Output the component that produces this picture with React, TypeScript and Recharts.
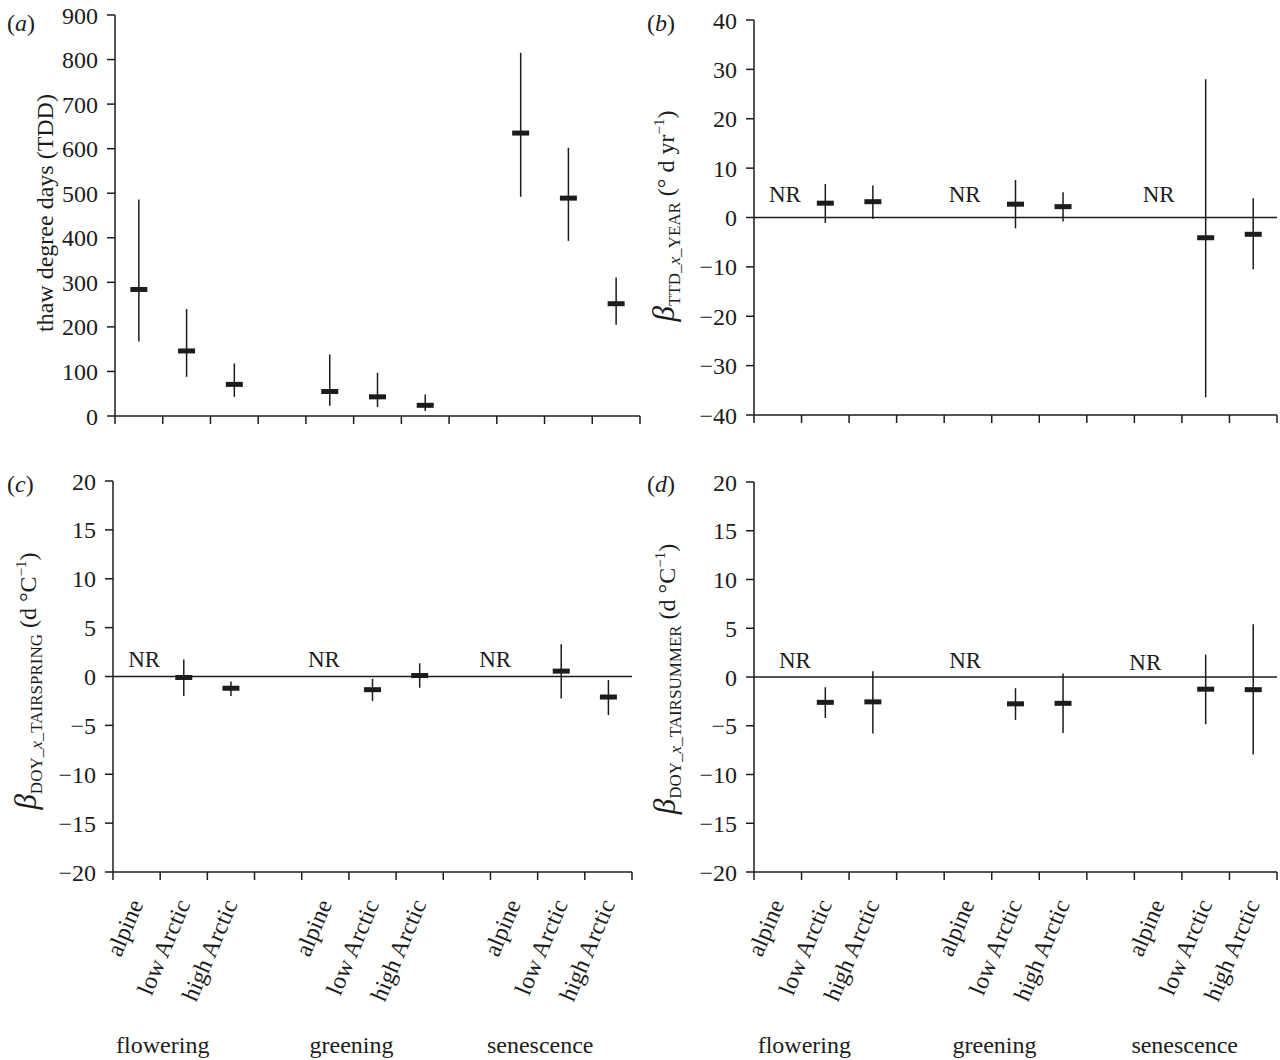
import React from 'react';
import { ComposedChart, Scatter, ErrorBar, XAxis, YAxis, ReferenceLine, Label } from 'recharts';

const FONT = "'Liberation Serif', 'Times New Roman', serif";
const INK = '#1c1c1c';

// categories
const regions = ['alpine', 'low Arctic', 'high Arctic'];
const phases = ['flowering', 'greening', 'senescence'];

// order: flowering (alpine, low, high), greening (...), senescence (...)
// (a) thaw degree days
const tddMean = [284, 146, 71, 55, 43, 24, 635, 489, 252];
const tddLow = [167, 88, 43, 23, 20, 11, 492, 393, 205];
const tddHigh = [486, 240, 118, 138, 97, 48, 815, 602, 311];

// (b) beta TTD x YEAR (null = NR)
const yearMean = [null, 2.9, 3.2, null, 2.7, 2.2, null, -4.1, -3.4];
const yearLow = [null, -1.1, -0.3, null, -2.2, -0.8, null, -36.4, -10.5];
const yearHigh = [null, 6.8, 6.5, null, 7.6, 5.1, null, 28, 3.9];

// (c) beta DOY x TAIRSPRING
const springMean = [null, -0.1, -1.2, null, -1.35, 0.1, null, 0.55, -2.1];
const springLow = [null, -2.0, -2.0, null, -2.5, -1.15, null, -2.25, -3.95];
const springHigh = [null, 1.75, -0.5, null, -0.25, 1.35, null, 3.3, -0.35];

// (d) beta DOY x TAIRSUMMER
const summerMean = [null, -2.6, -2.55, null, -2.75, -2.7, null, -1.25, -1.3];
const summerLow = [null, -4.2, -5.8, null, -4.4, -5.75, null, -4.85, -7.95];
const summerHigh = [null, -1.05, 0.6, null, -1.15, 0.35, null, 2.3, 5.4];

// "NR" annotation anchors (x in category-slot units, y in data units)
const nrXB = [0.65, 4.43, 8.51];
const nrYB = [4.7, 4.7, 4.7];
const nrXC = [0.66, 4.47, 8.1];
const nrYC = [1.75, 1.75, 1.75];
const nrXD = [0.86, 4.44, 8.23];
const nrYD = [1.7, 1.8, 1.5];

const tddTicks = [0, 100, 200, 300, 400, 500, 600, 700, 800, 900];
const yearTicks = [-40, -30, -20, -10, 0, 10, 20, 30, 40];
const tairTicks = [-20, -15, -10, -5, 0, 5, 10, 15, 20];

const NSLOTS = 11;
const slotOf = (k: number) => Math.floor(k / 3) * 4 + (k % 3);
const boundaryTicks = Array.from({ length: NSLOTS + 1 }, (_, i) => i);
const catTicks = [...boundaryTicks, ...Array.from({ length: 9 }, (_, k) => slotOf(k) + 0.5)].sort((a, b) => a - b);

function buildRows(mean: (number | null)[], low: (number | null)[], high: (number | null)[]) {
  const rows: any[] = [];
  mean.forEach((m, k) => {
    if (m == null) return;
    rows.push({ x: slotOf(k) + 0.5, y: m, err: [m - (low[k] as number), (high[k] as number) - m] });
  });
  return rows;
}
function buildNR(xs: number[], ys: number[]) {
  return xs.map((x, i) => ({ x, y: ys[i] }));
}

const fmt = (v: number) => (v < 0 ? '\u2212' + Math.abs(v) : String(v));

const Dash = (props: any) => {
  const { cx, cy } = props;
  if (cx == null || cy == null) return <g />;
  return <rect x={cx - 8.5} y={cy - 2.5} width={17} height={5} fill={INK} />;
};
const NRText = (props: any) => {
  const { cx, cy } = props;
  if (cx == null || cy == null) return <g />;
  return (
    <text x={cx} y={cy} dy="0.35em" textAnchor="middle" fontFamily={FONT} fontSize={23} fill={INK}>
      NR
    </text>
  );
};

const makeTick = (showCats: boolean) => (props: any) => {
  const { x, y, payload } = props;
  const v = payload.value as number;
  if (Number.isInteger(v)) {
    return <line x1={x} x2={x} y1={y} y2={y + 8} stroke={INK} strokeWidth={1.5} />;
  }
  if (!showCats) return <g />;
  const s = Math.floor(v);
  const r = s % 4;
  const g = Math.floor(s / 4);
  const ax = x + 7;
  const ay = y + 32;
  return (
    <g>
      <text
        x={ax}
        y={ay}
        transform={`rotate(-67 ${ax} ${ay})`}
        textAnchor="end"
        fontFamily={FONT}
        fontSize={24}
        fill={INK}
      >
        {regions[r]}
      </text>
      {r === 1 && (
        <text x={x - 21} y={y + 181} textAnchor="middle" fontFamily={FONT} fontSize={24} fill={INK}>
          {phases[g]}
        </text>
      )}
    </g>
  );
};

type PanelProps = {
  left: number;
  top: number;
  width: number;
  height: number;
  marginTop: number;
  marginRight: number;
  yWidth: number;
  xHeight: number;
  domain: [number, number];
  ticks: number[];
  rows: any[];
  nr?: any[];
  zeroLine: boolean;
  showCats: boolean;
  title: () => React.ReactElement;
};

function Panel(p: PanelProps) {
  return (
    <div style={{ position: 'absolute', left: p.left, top: p.top, width: p.width, height: p.height }}>
      <ComposedChart
        width={p.width}
        height={p.height}
        margin={{ top: p.marginTop, right: p.marginRight, left: 0, bottom: 0 }}
      >
        <XAxis
          type="number"
          dataKey="x"
          domain={[0, NSLOTS]}
          ticks={p.showCats ? catTicks : boundaryTicks}
          interval={0}
          tickLine={false}
          tickSize={0}
          tickMargin={0}
          height={p.xHeight}
          axisLine={{ stroke: INK, strokeWidth: 1.5 }}
          tick={makeTick(p.showCats)}
          allowDataOverflow
        />
        <YAxis
          type="number"
          dataKey="y"
          domain={p.domain}
          ticks={p.ticks}
          interval={0}
          width={p.yWidth}
          tickSize={8}
          tickMargin={9}
          tickFormatter={fmt}
          axisLine={{ stroke: INK, strokeWidth: 1.5 }}
          tickLine={{ stroke: INK, strokeWidth: 1.5 }}
          tick={{ fontFamily: FONT, fontSize: 24, fill: INK }}
          allowDataOverflow
        >
          <Label content={p.title} />
        </YAxis>
        {p.zeroLine && <ReferenceLine y={0} stroke={INK} strokeWidth={1.3} />}
        <Scatter data={p.rows} dataKey="y" shape={Dash} isAnimationActive={false}>
          <ErrorBar dataKey="err" direction="y" width={0} stroke={INK} strokeWidth={1.5} />
        </Scatter>
        {p.nr && <Scatter data={p.nr} dataKey="y" shape={NRText} isAnimationActive={false} />}
      </ComposedChart>
    </div>
  );
}

const letter = (ch: string, x: number, y: number) => (
  <text x={x} y={y} fontFamily={FONT} fontSize={24} fill={INK}>
    (<tspan fontStyle="italic">{ch}</tspan>)
  </text>
);

const betaTitle = (sub: string, unit: React.ReactNode, cx: number, cy: number) => {
  const parts = sub.split('_x_');
  return (
    <text
      x={cx}
      y={cy}
      transform={`rotate(-90 ${cx} ${cy})`}
      textAnchor="middle"
      fontFamily={FONT}
      fontSize={24}
      fill={INK}
    >
      <tspan fontStyle="italic" fontSize={31}>β</tspan>
      <tspan fontSize={17} dy={6}>{parts[0] + '_'}</tspan>
      <tspan fontSize={17} fontStyle="italic">x</tspan>
      <tspan fontSize={17}>{'_' + parts[1]}</tspan>
      {unit}
    </text>
  );
};

const unitYear = (
  <>
    <tspan dy={-6}>{' (\u00B0 d yr'}</tspan>
    <tspan fontSize={15} dy={-10}>{'\u22121'}</tspan>
    <tspan dy={10}>)</tspan>
  </>
);
const unitTemp = (
  <>
    <tspan dy={-6}>{' (d \u00B0C'}</tspan>
    <tspan fontSize={15} dy={-10}>{'\u22121'}</tspan>
    <tspan dy={10}>)</tspan>
  </>
);

export default function App() {
  return (
    <div style={{ position: 'absolute', left: 0, top: 0, width: 1280, height: 1060, background: '#fff', fontFamily: FONT }}>
      <Panel
        left={0}
        top={0}
        width={660}
        height={440}
        marginTop={15}
        marginRight={20}
        yWidth={115}
        xHeight={24}
        domain={[0, 900]}
        ticks={tddTicks}
        rows={buildRows(tddMean, tddLow, tddHigh)}
        zeroLine={false}
        showCats={false}
        title={() => (
          <g>
            {letter('a', 7, 31)}
            <text
              x={53}
              y={213}
              transform="rotate(-90 53 213)"
              textAnchor="middle"
              fontFamily={FONT}
              fontSize={24}
              fill={INK}
            >
              thaw degree days (TDD)
            </text>
          </g>
        )}
      />
      <Panel
        left={640}
        top={0}
        width={640}
        height={440}
        marginTop={20}
        marginRight={3}
        yWidth={114}
        xHeight={25}
        domain={[-40, 40]}
        ticks={yearTicks}
        rows={buildRows(yearMean, yearLow, yearHigh)}
        nr={buildNR(nrXB, nrYB)}
        zeroLine={true}
        showCats={false}
        title={() => (
          <g>
            {letter('b', 7, 31)}
            {betaTitle('TTD_x_YEAR', unitYear, 34, 216)}
          </g>
        )}
      />
      <Panel
        left={0}
        top={460}
        width={660}
        height={600}
        marginTop={21}
        marginRight={28}
        yWidth={113}
        xHeight={188}
        domain={[-20, 20]}
        ticks={tairTicks}
        rows={buildRows(springMean, springLow, springHigh)}
        nr={buildNR(nrXC, nrYC)}
        zeroLine={true}
        showCats={true}
        title={() => (
          <g>
            {letter('c', 7, 32)}
            {betaTitle('DOY_x_TAIRSPRING', unitTemp, 36, 221)}
          </g>
        )}
      />
      <Panel
        left={640}
        top={460}
        width={640}
        height={600}
        marginTop={22}
        marginRight={3}
        yWidth={114}
        xHeight={188}
        domain={[-20, 20]}
        ticks={tairTicks}
        rows={buildRows(summerMean, summerLow, summerHigh)}
        nr={buildNR(nrXD, nrYD)}
        zeroLine={true}
        showCats={true}
        title={() => (
          <g>
            {letter('d', 7, 32)}
            {betaTitle('DOY_x_TAIRSUMMER', unitTemp, 35, 219)}
          </g>
        )}
      />
    </div>
  );
}
